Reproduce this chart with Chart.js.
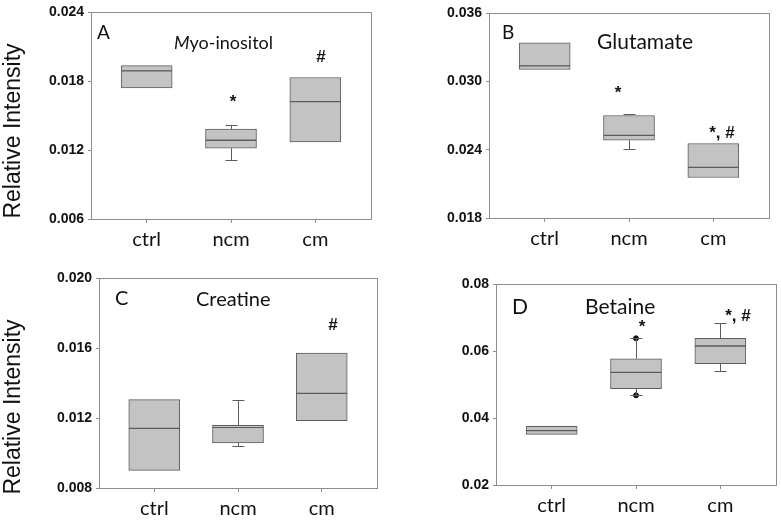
<!DOCTYPE html>
<html>
<head>
<meta charset="utf-8">
<script src="https://cdn.jsdelivr.net/npm/chart.js@4.4.1/dist/chart.umd.min.js"></script>
<style>
  body { margin: 0; background: #fff; }
  #wrap { position: relative; width: 781px; height: 524px; }
  #wrap canvas { position: absolute; left: 0; top: 0; }
</style>
</head>
<body>
<div id="wrap">
  <canvas id="chartA" width="781" height="524"></canvas>
  <canvas id="chartB" width="781" height="524"></canvas>
  <canvas id="chartC" width="781" height="524"></canvas>
  <canvas id="chartD" width="781" height="524"></canvas>
</div>
<script>
var groups = ["ctrl", "ncm", "cm"];

// A - Myo-inositol
var myoQ1 = [0.01741, 0.01217, 0.01272];
var myoMedian = [0.01891, 0.01286, 0.01623];
var myoQ3 = [0.01936, 0.01384, 0.01833];
var myoLow = [null, 0.01116, null];
var myoHigh = [null, 0.01416, null];
var myoTicks = [0.006, 0.012, 0.018, 0.024];

// B - Glutamate
var gluQ1 = [0.03104, 0.02483, 0.02156];
var gluMedian = [0.03136, 0.02526, 0.02244];
var gluQ3 = [0.03337, 0.0270, 0.02454];
var gluLow = [null, 0.02407, null];
var gluHigh = [null, 0.02715, null];
var gluTicks = [0.018, 0.024, 0.030, 0.036];

// C - Creatine
var creQ1 = [0.00901, 0.01057, 0.01185];
var creMedian = [0.01141, 0.01146, 0.01341];
var creQ3 = [0.01305, 0.01158, 0.01571];
var creLow = [null, 0.01042, null];
var creHigh = [null, 0.01301, null];
var creTicks = [0.008, 0.012, 0.016, 0.020];

// D - Betaine
var betQ1 = [0.03513, 0.04875, 0.05622];
var betMedian = [0.03622, 0.05363, 0.06149];
var betQ3 = [0.03752, 0.0577, 0.06378];
var betLow = [null, 0.04677, 0.05413];
var betHigh = [null, 0.06378, 0.06826];
var betOutX = [1, 1];
var betOutY = [0.06378, 0.04677];
var betTicks = [0.02, 0.04, 0.06, 0.08];

var boxFill = "#c3c3c3";
var boxLine = "#5c5c5c";
var frameColor = "#8e8e8e";
var labelFont = "Lato, 'Open Sans', sans-serif";

function makePanel(id, q1, med, q3, lo, hi, ticks, decimals, area, notes, outX, outY) {
  var datasets = [
    {
      data: groups.map(function (g, i) { return { x: i, y: [q1[i], med[i]] }; }),
      backgroundColor: boxFill, borderColor: boxLine, borderWidth: 1,
      borderSkipped: false, barThickness: 51, grouped: false
    },
    {
      data: groups.map(function (g, i) { return { x: i, y: [med[i], q3[i]] }; }),
      backgroundColor: boxFill, borderColor: boxLine, borderWidth: 1,
      borderSkipped: false, barThickness: 51, grouped: false
    }
  ];
  if (outX) {
    datasets.push({
      type: "scatter",
      data: outX.map(function (x, i) { return { x: x, y: outY[i] }; }),
      pointRadius: 2.5, backgroundColor: "#111", borderColor: "#111"
    });
  }

  var whiskers = {
    id: "whiskers",
    afterDatasetsDraw: function (chart) {
      var c = chart.ctx, xs = chart.scales.x, ys = chart.scales.y;
      c.save();
      c.strokeStyle = boxLine;
      c.lineWidth = 1;
      for (var i = 0; i < groups.length; i++) {
        var px = Math.round(xs.getPixelForValue(i)) + 0.5;
        [[lo[i], q1[i]], [hi[i], q3[i]]].forEach(function (p) {
          if (p[0] == null) return;
          var a = Math.round(ys.getPixelForValue(p[0])) + 0.5;
          var b = ys.getPixelForValue(p[1]);
          c.beginPath();
          c.moveTo(px, a); c.lineTo(px, b);
          c.moveTo(px - 6, a); c.lineTo(px + 6, a);
          c.stroke();
        });
      }
      c.restore();
    }
  };

  var frame = {
    id: "frame",
    afterDraw: function (chart) {
      var a = chart.chartArea, c = chart.ctx;
      c.save();
      c.strokeStyle = frameColor;
      c.lineWidth = 1;
      c.strokeRect(Math.round(a.left) + 0.5, Math.round(a.top) + 0.5,
        Math.round(a.right - a.left), Math.round(a.bottom - a.top));
      c.restore();
    }
  };

  var texts = {
    id: "texts",
    afterDraw: function (chart) {
      var c = chart.ctx;
      c.save();
      c.fillStyle = "#111";
      notes.forEach(function (n) {
        c.save();
        c.font = n.font;
        c.textBaseline = "middle";
        c.textAlign = n.align || "left";
        c.translate(n.x, n.y);
        if (n.rotate) c.rotate(n.rotate);
        if (n.italic) {
          c.font = "italic " + n.font;
          c.fillText(n.italic, 0, 0);
          var w = c.measureText(n.italic).width;
          c.font = n.font;
          c.fillText(n.text, w, 0);
        } else {
          c.fillText(n.text, 0, 0);
        }
        c.restore();
      });
      c.restore();
    }
  };

  var yWidth = 60, xHeight = 40;
  return new Chart(document.getElementById(id), {
    type: "bar",
    data: { datasets: datasets },
    options: {
      responsive: false,
      animation: false,
      layout: {
        padding: {
          left: area.left - yWidth,
          top: area.top,
          right: 781 - area.right,
          bottom: 524 - area.bottom - xHeight
        }
      },
      plugins: { legend: { display: false }, tooltip: { enabled: false } },
      scales: {
        x: {
          type: "linear",
          offset: false,
          min: -0.66, max: 2.66,
          afterBuildTicks: function (s) { s.ticks = groups.map(function (g, i) { return { value: i }; }); },
          afterFit: function (s) { s.height = xHeight; },
          grid: { drawOnChartArea: false, drawTicks: true, tickLength: 4, color: frameColor, offset: false },
          border: { display: false },
          ticks: {
            padding: 5,
            color: "#111",
            font: { family: labelFont, size: 20 },
            callback: function (v) { return groups[v]; }
          }
        },
        y: {
          min: ticks[0], max: ticks[ticks.length - 1],
          afterBuildTicks: function (s) { s.ticks = ticks.map(function (v) { return { value: v }; }); },
          afterFit: function (s) { s.width = yWidth; },
          grid: { drawOnChartArea: false, drawTicks: true, tickLength: 3, color: frameColor },
          border: { display: false },
          ticks: {
            padding: 4,
            color: "#111",
            font: { family: "'Liberation Sans', Arial, sans-serif", size: 14, weight: "bold" },
            callback: function (v) { return v.toFixed(decimals); }
          }
        }
      }
    },
    plugins: [whiskers, frame, texts]
  });
}

var yTitleFont = "23px 'Liberation Sans', Arial, sans-serif";
var starFont = "bold 17px 'Liberation Sans', Arial, sans-serif";

makePanel("chartA", myoQ1, myoMedian, myoQ3, myoLow, myoHigh, myoTicks, 3,
  { left: 91, top: 10, right: 371, bottom: 219 },
  [
    { text: "A", x: 97, y: 33, font: "19px " + labelFont },
    { italic: "M", text: "yo-inositol", x: 174, y: 43, font: "18px " + labelFont },
    { text: "*", x: 233, y: 102, font: starFont, align: "center" },
    { text: "#", x: 321, y: 57, font: starFont, align: "center" },
    { text: "Relative Intensity", x: 14, y: 131, font: yTitleFont, align: "center", rotate: -Math.PI / 2 }
  ]);

makePanel("chartB", gluQ1, gluMedian, gluQ3, gluLow, gluHigh, gluTicks, 3,
  { left: 489, top: 13, right: 769, bottom: 218 },
  [
    { text: "B", x: 502, y: 33, font: "19px " + labelFont },
    { text: "Glutamate", x: 597, y: 42, font: "21px " + labelFont },
    { text: "*", x: 618, y: 93, font: starFont, align: "center" },
    { text: "*, #", x: 722, y: 133, font: starFont, align: "center" }
  ]);

makePanel("chartC", creQ1, creMedian, creQ3, creLow, creHigh, creTicks, 3,
  { left: 99, top: 278, right: 377, bottom: 488 },
  [
    { text: "C", x: 115, y: 299, font: "20px " + labelFont },
    { text: "Creatine", x: 196, y: 300, font: "20px " + labelFont },
    { text: "#", x: 333, y: 325, font: starFont, align: "center" },
    { text: "Relative Intensity", x: 14, y: 407, font: yTitleFont, align: "center", rotate: -Math.PI / 2 }
  ]);

makePanel("chartD", betQ1, betMedian, betQ3, betLow, betHigh, betTicks, 2,
  { left: 496, top: 284, right: 776, bottom: 485 },
  [
    { text: "D", x: 512, y: 307, font: "21px " + labelFont },
    { text: "Betaine", x: 585, y: 307, font: "21px " + labelFont },
    { text: "*", x: 642, y: 327, font: starFont, align: "center" },
    { text: "*, #", x: 738, y: 316, font: starFont, align: "center" }
  ], betOutX, betOutY);
</script>
</body>
</html>
